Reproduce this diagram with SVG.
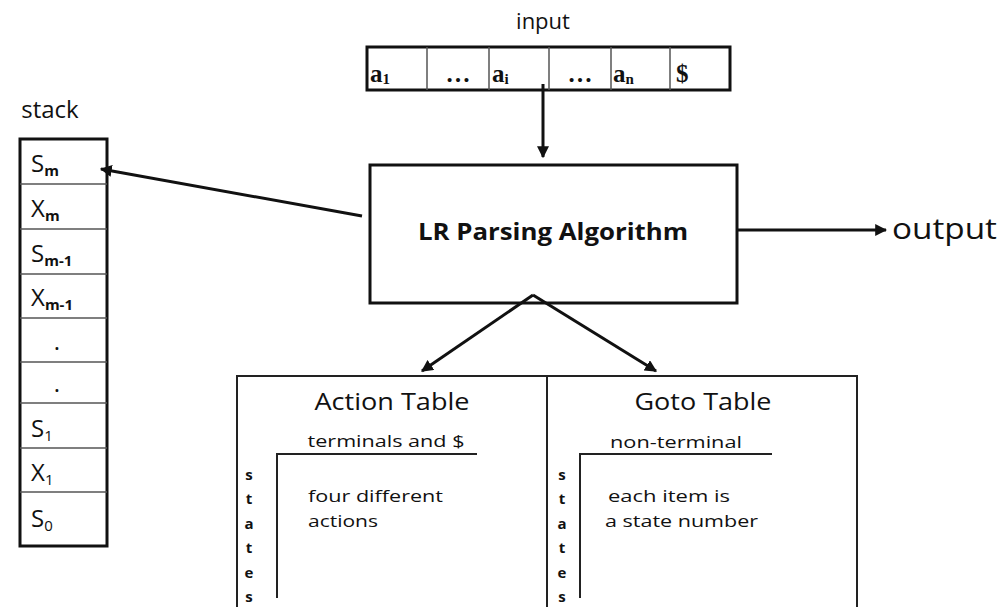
<svg xmlns="http://www.w3.org/2000/svg" width="1002" height="607" viewBox="0 0 1002 607">
<defs>
<marker id="ah" viewBox="0 0 10 10" refX="9" refY="5" markerWidth="4" markerHeight="4" orient="auto" markerUnits="strokeWidth">
<path d="M0,0 L10,5 L0,10 z" fill="#111"/>
</marker>
</defs>
<style>
.box{fill:#fff;stroke:#111;stroke-width:3}
.div{stroke:#555;stroke-width:1.5}
.sans{font-family:"Open Sans","Noto Sans",sans-serif;fill:#111}
.serif{font-family:"Liberation Serif",serif;font-weight:bold;fill:#111;font-size:25px}
.conn{stroke:#111;stroke-width:3;fill:none;marker-end:url(#ah)}
.tbl{stroke:#222;stroke-width:2;fill:none}
</style>
<rect width="1002" height="607" fill="#fff"/>

<g id="input">
<text class="sans" x="543" y="29" font-size="22" text-anchor="middle">input</text>
<rect class="box" x="367" y="47" width="363" height="43"/>
<line class="div" x1="427" y1="47" x2="427" y2="90"/>
<line class="div" x1="489" y1="47" x2="489" y2="90"/>
<line class="div" x1="549" y1="47" x2="549" y2="90"/>
<line class="div" x1="611" y1="47" x2="611" y2="90"/>
<line class="div" x1="670" y1="47" x2="670" y2="90"/>
<text class="serif" x="370" y="82">a<tspan font-size="15" dy="2">1</tspan></text>
<text class="serif" x="458" y="82" text-anchor="middle" font-weight="normal" font-size="20">…</text>
<text class="serif" x="492" y="82">a<tspan font-size="15" dy="2">i</tspan></text>
<text class="serif" x="580" y="82" text-anchor="middle" font-weight="normal" font-size="20">…</text>
<text class="serif" x="613" y="82">a<tspan font-size="15" dy="2">n</tspan></text>
<text class="serif" x="676" y="82">$</text>
</g>

<g id="stack">
<text class="sans" x="50" y="118" font-size="24" text-anchor="middle">stack</text>
<rect class="box" x="20" y="139" width="87" height="407"/>
<line class="div" x1="20" y1="184" x2="107" y2="184"/>
<line class="div" x1="20" y1="229" x2="107" y2="229"/>
<line class="div" x1="20" y1="274" x2="107" y2="274"/>
<line class="div" x1="20" y1="318" x2="107" y2="318"/>
<line class="div" x1="20" y1="362" x2="107" y2="362"/>
<line class="div" x1="20" y1="403" x2="107" y2="403"/>
<line class="div" x1="20" y1="448" x2="107" y2="448"/>
<line class="div" x1="20" y1="492" x2="107" y2="492"/>
<text class="sans" x="31" y="172" font-size="24">S<tspan font-size="15" font-weight="bold" dy="4">m</tspan></text>
<text class="sans" x="31" y="217" font-size="24">X<tspan font-size="15" font-weight="bold" dy="4">m</tspan></text>
<text class="sans" x="31" y="262" font-size="24">S<tspan font-size="15" font-weight="bold" dy="4">m-1</tspan></text>
<text class="sans" x="31" y="306" font-size="24">X<tspan font-size="15" font-weight="bold" dy="4">m-1</tspan></text>
<text class="sans" x="57" y="350" font-size="24" text-anchor="middle">.</text>
<text class="sans" x="57" y="392" font-size="24" text-anchor="middle">.</text>
<text class="sans" x="31" y="437" font-size="24">S<tspan font-size="15" dy="4">1</tspan></text>
<text class="sans" x="31" y="481" font-size="24">X<tspan font-size="15" dy="4">1</tspan></text>
<text class="sans" x="31" y="527" font-size="24">S<tspan font-size="15" dy="4">0</tspan></text>
</g>

<g id="parser">
<rect class="box" x="370" y="165" width="367" height="138"/>
<text class="sans" x="553" y="240" font-size="24" font-weight="bold" text-anchor="middle" textLength="270" lengthAdjust="spacingAndGlyphs">LR Parsing Algorithm</text>
</g>

<g id="output">
<text class="sans" x="892" y="239" font-size="29" textLength="105" lengthAdjust="spacingAndGlyphs">output</text>
</g>

<g id="tables">
<path class="tbl" d="M237,607 V376 H857 V607" stroke-width="3"/>
<line class="tbl" x1="547" y1="376" x2="547" y2="607"/>
<text class="sans" x="392" y="410" font-size="24" text-anchor="middle" textLength="155" lengthAdjust="spacingAndGlyphs">Action Table</text>
<text class="sans" x="386" y="447" font-size="17" text-anchor="middle" textLength="157" lengthAdjust="spacingAndGlyphs">terminals and $</text>
<path class="tbl" d="M277,598 V454 H477"/>
<text class="sans" x="308" y="502" font-size="17" textLength="135" lengthAdjust="spacingAndGlyphs">four different</text>
<text class="sans" x="308" y="527" font-size="17" textLength="70" lengthAdjust="spacingAndGlyphs">actions</text>
<g class="sans" font-size="15" font-weight="bold" text-anchor="middle">
<text x="249" y="480">s</text><text x="249" y="504">t</text><text x="249" y="529">a</text><text x="249" y="553">t</text><text x="249" y="578">e</text><text x="249" y="602">s</text>
</g>
<text class="sans" x="703" y="410" font-size="24" text-anchor="middle" textLength="137" lengthAdjust="spacingAndGlyphs">Goto Table</text>
<text class="sans" x="676" y="448" font-size="17" text-anchor="middle" textLength="132" lengthAdjust="spacingAndGlyphs">non-terminal</text>
<path class="tbl" d="M580,598 V454 H772"/>
<text class="sans" x="608" y="502" font-size="17" textLength="122" lengthAdjust="spacingAndGlyphs">each item is</text>
<text class="sans" x="605" y="527" font-size="17" textLength="153" lengthAdjust="spacingAndGlyphs">a state number</text>
<g class="sans" font-size="15" font-weight="bold" text-anchor="middle">
<text x="562" y="480">s</text><text x="562" y="504">t</text><text x="562" y="529">a</text><text x="562" y="553">t</text><text x="562" y="578">e</text><text x="562" y="602">s</text>
</g>
</g>

<g id="connectors">
<line class="conn" x1="543" y1="84" x2="543" y2="157"/>
<line class="conn" x1="362" y1="216" x2="101" y2="169"/>
<line class="conn" x1="737" y1="230" x2="886" y2="230"/>
<line class="conn" x1="533" y1="295" x2="422" y2="371"/>
<line class="conn" x1="533" y1="295" x2="656" y2="371"/>
</g>
</svg>
